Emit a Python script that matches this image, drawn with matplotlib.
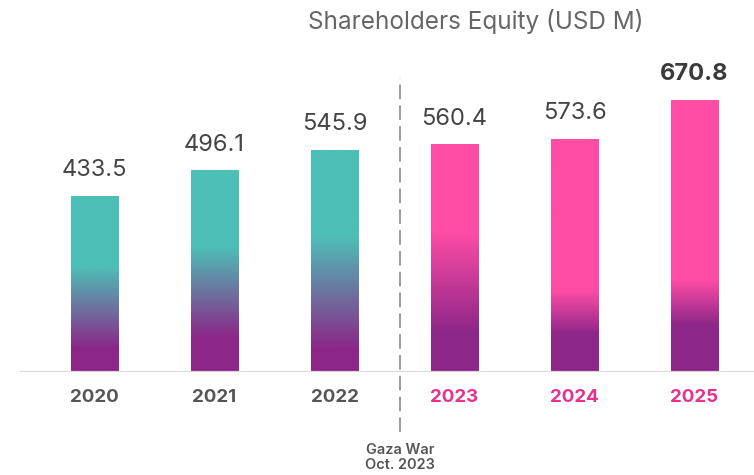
import numpy as np
import matplotlib
matplotlib.use("Agg")
import matplotlib.pyplot as plt
from matplotlib.colors import to_rgb

years = ["2020", "2021", "2022", "2023", "2024", "2025"]
equity = [433.5, 496.1, 545.9, 560.4, 573.6, 670.8]
labels = ["433.5", "496.1", "545.9", "560.4", "573.6", "670.8"]
post_war = [False, False, False, True, True, True]

# gradient transition (fraction of bar height from bottom): purple below lo, top colour above hi
grad_hi = [0.60, 0.62, 0.61, 0.62, 0.35, 0.34]
grad_lo = [0.13, 0.17, 0.10, 0.17, 0.16, 0.17]

TEAL = "#4dbfb6"
PINK = "#ff4da6"
PURPLE = "#8c2688"
PINK_TXT = "#e8308c"
GRAY_TXT = "#555555"

plt.rcParams['font.family'] = ['Inter', 'DejaVu Sans']

fig = plt.figure(figsize=(7.54, 4.75), dpi=100)
ax = fig.add_axes([20/754, 103/475, 734/754, 372/475])

xlim = (-0.621, 5.496)
ylim = (0, 918)
ax.set_xlim(*xlim)
ax.set_ylim(*ylim)

width = 0.392
for i, (v, pw) in enumerate(zip(equity, post_war)):
    top = np.array(to_rgb(PINK if pw else TEAL))
    bot = np.array(to_rgb(PURPLE))
    n = 400
    f = np.linspace(1, 0, n)  # top row first
    t = np.clip((f - grad_lo[i]) / (grad_hi[i] - grad_lo[i]), 0, 1)
    img = bot[None, :] * (1 - t[:, None]) + top[None, :] * t[:, None]
    img = img[:, None, :]
    ax.imshow(img, extent=(i - width/2, i + width/2, 0, v), aspect='auto',
              interpolation='bilinear', zorder=2)
    bold = (i == len(equity) - 1)
    ax.text(i, v + 38, labels[i], ha='center', va='bottom',
            fontsize=17, color='#444444' if not bold else '#3a3a3a',
            fontweight='bold' if bold else 'normal')

ax.set_xlim(*xlim)
ax.set_ylim(*ylim)

ax.axhline(0, color='#d9d9d9', lw=1.6, zorder=3)

ax.set_xticks(range(len(years)))
ax.set_xticklabels(years)
for lbl, pw in zip(ax.get_xticklabels(), post_war):
    lbl.set_color(PINK_TXT if pw else GRAY_TXT)
    lbl.set_fontweight('bold')
    lbl.set_fontsize(13.5)
ax.tick_params(axis='x', length=0, pad=12)
ax.set_yticks([])
for s in ax.spines.values():
    s.set_visible(False)

ax.axvline(2.546, ymin=-60/372, ymax=294/372, clip_on=False, color='#9a9a9a',
           lw=1.4, linestyle=(0, (7.5, 3.2)), zorder=1)
ax.text(2.546, -0.19, "Gaza War\nOct. 2023", transform=ax.get_xaxis_transform(),
        ha='center', va='top', fontsize=10.5, fontweight='semibold', color=GRAY_TXT,
        linespacing=1.15)

fig.text(476/754, 1 - 22/475, "Shareholders Equity (USD M)", ha='center', va='center',
         fontsize=17.5, color='#666666')

fig.savefig("out.png", dpi=100)
